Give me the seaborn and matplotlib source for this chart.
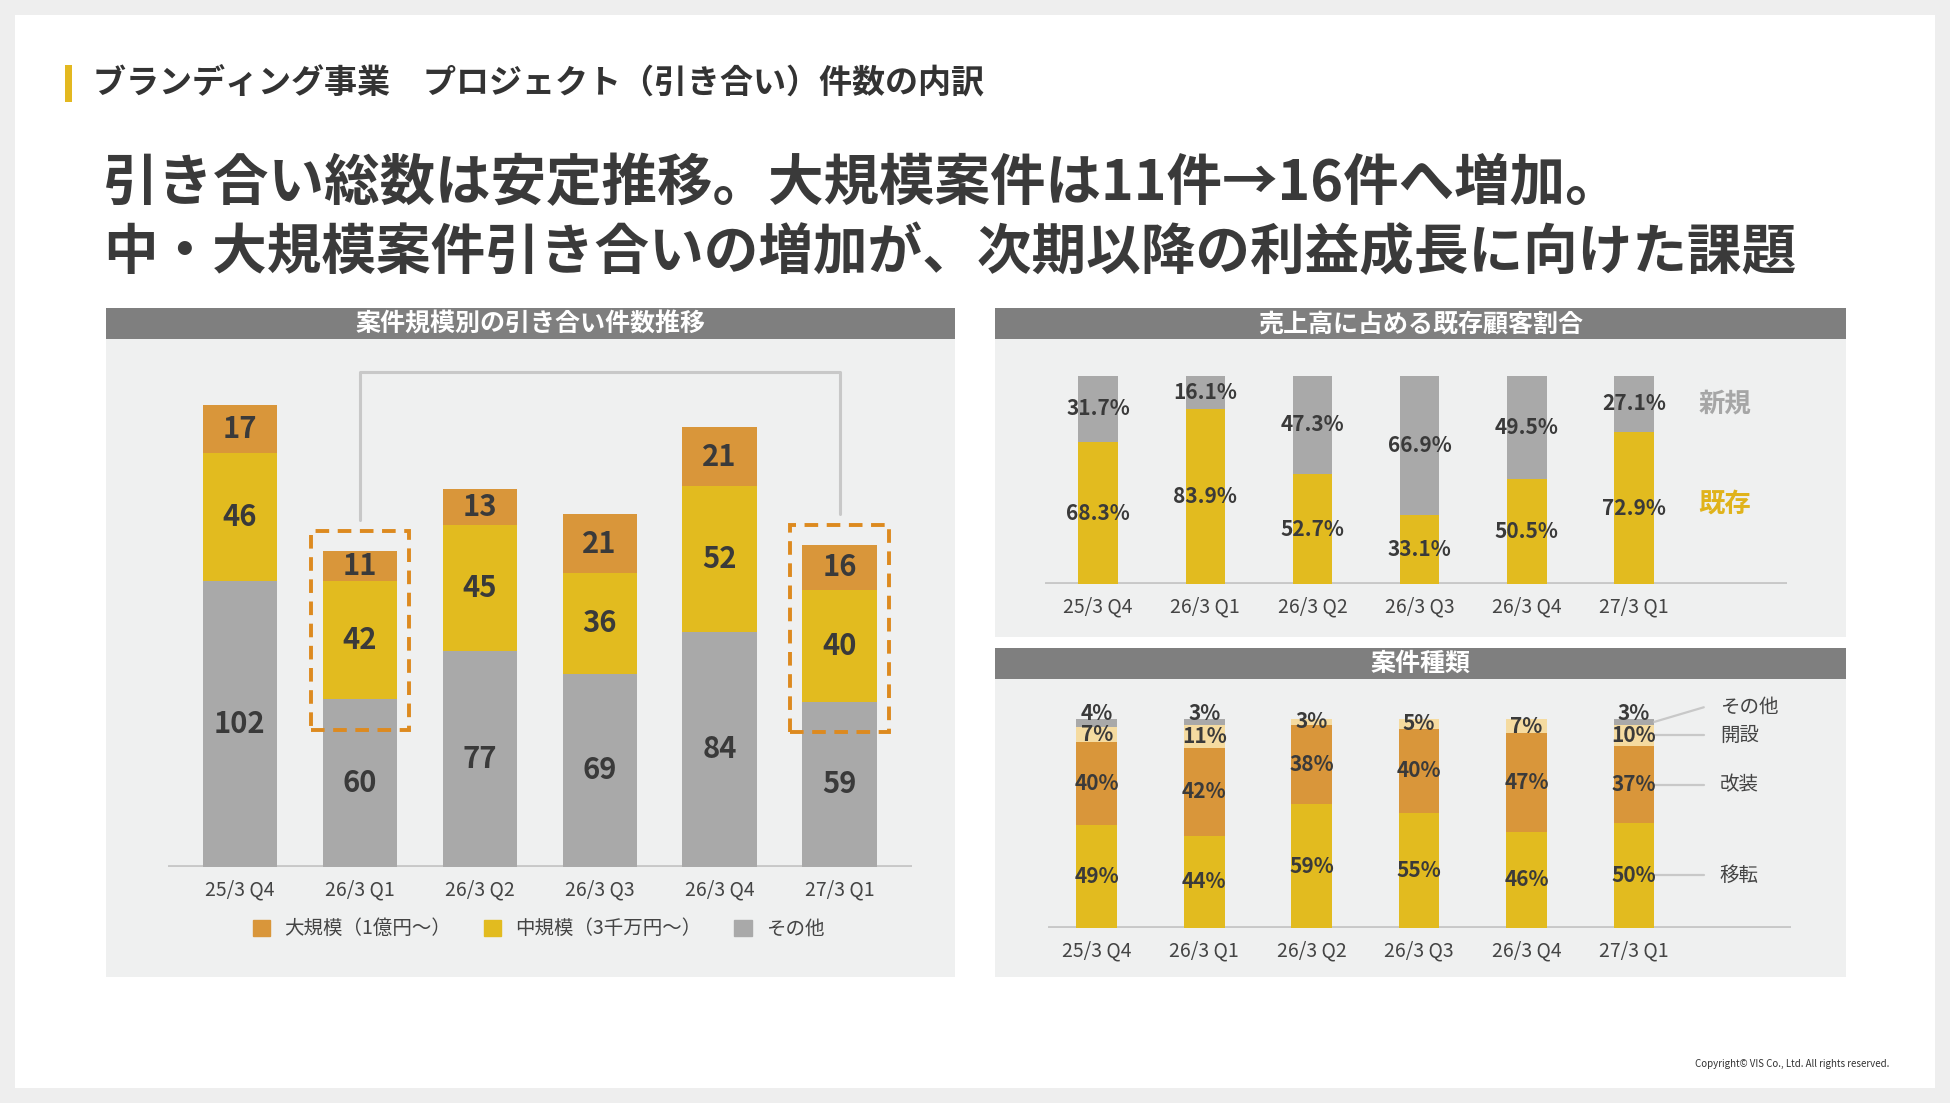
import matplotlib
matplotlib.use("Agg")
import matplotlib.pyplot as plt
from matplotlib.patches import Rectangle, Patch
import numpy as np
import seaborn as sns

QUARTERS = ["25/3 Q4", "26/3 Q1", "26/3 Q2", "26/3 Q3", "26/3 Q4", "27/3 Q1"]

# 案件規模別の引き合い件数
SIZE_OTHER = [102, 60, 77, 69, 84, 59]
SIZE_MID = [46, 42, 45, 36, 52, 40]
SIZE_LARGE = [17, 11, 13, 21, 21, 16]
SIZE_NAMES = ["大規模（1億円〜）", "中規模（3千万円〜）", "その他"]
HIGHLIGHT = ["26/3 Q1", "27/3 Q1"]

# 売上高に占める既存顧客割合 (%)
EXISTING = [68.3, 83.9, 52.7, 33.1, 50.5, 72.9]
NEW = [31.7, 16.1, 47.3, 66.9, 49.5, 27.1]

# 案件種類 (%)
TYPE_MOVE = [49, 44, 59, 55, 46, 50]
TYPE_RENOV = [40, 42, 38, 40, 47, 37]
TYPE_OPEN = [7, 11, 3, 5, 7, 10]
TYPE_OTHER = [4, 3, 0, 0, 0, 3]
TYPE_NAMES = ["移転", "改装", "開設", "その他"]

ORANGE, YELLOW, GRAY, LIGHT = "#D9963A", "#E2BB1F", "#A9A9A9", "#F5DBA0"
PANEL, HEAD, TXT, LINE = "#EFF0F0", "#7F7F7F", "#3A3A3A", "#C8C8C8"

sns.set_theme(style="white")
plt.rcParams["font.family"] = ["Noto Sans CJK JP", "DejaVu Sans"]

W, H = 1568, 887   # layout grid (scaled to 1950x1103 on save)
def fbox(x0, y0, x1, y1):
    return [x0 / W, 1 - y1 / H, (x1 - x0) / W, (y1 - y0) / H]

fig = plt.figure(figsize=(19.5, 11.03), dpi=100, facecolor="#EEEEEE")

def rect(x0, y0, x1, y1, color, z=-2):
    b = fbox(x0, y0, x1, y1)
    fig.add_artist(Rectangle((b[0], b[1]), b[2], b[3], transform=fig.transFigure,
                             facecolor=color, edgecolor="none", zorder=z))

rect(12, 12, 1556, 875, "white", z=-3)
rect(52, 52, 58, 82, "#E3B820")
fig.text(75 / W, 1 - 67 / H, "ブランディング事業　プロジェクト（引き合い）件数の内訳",
         fontsize=23.8, weight="bold", color="#333333", va="center")
fig.text(83 / W, 1 - 148 / H, "引き合い総数は安定推移。大規模案件は11件→16件へ増加。",
         fontsize=40, weight="bold", color=TXT, va="center")
fig.text(83 / W, 1 - 204 / H, "中・大規模案件引き合いの増加が、次期以降の利益成長に向けた課題",
         fontsize=39.3, weight="bold", color=TXT, va="center")

# panels + headers
for (x0, y0, x1, y1, title) in [(85, 248, 768, 786, "案件規模別の引き合い件数推移"),
                                (800, 248, 1484, 512, "売上高に占める既存顧客割合"),
                                (800, 521, 1484, 786, "案件種類")]:
    rect(x0, y0, x1, y1, PANEL)
    rect(x0, y0, x1, y0 + 25, HEAD, z=-1)
    fig.text((x0 + x1) / 2 / W, 1 - (y0 + 13) / H, title, fontsize=18,
             weight="bold", color="white", ha="center", va="center")

fig.text(1519 / W, 1 - 856 / H, "Copyright© VIS Co., Ltd. All rights reserved.",
         fontsize=7, color="#333333", ha="right", va="center")


def stacked(ax, layers, colors, width):
    cums, c = [], np.zeros(len(QUARTERS))
    for vals in layers:
        c = c + np.array(vals, dtype=float)
        cums.append(c.copy())
    for cum, col in reversed(list(zip(cums, colors))):
        sns.barplot(x=QUARTERS, y=cum, color=col, width=width, saturation=1,
                    errorbar=None, linewidth=0, ax=ax, zorder=2)
    return cums


def style(ax, xlim, ylim):
    ax.set_facecolor("none")
    ax.set_xlim(*xlim); ax.set_ylim(*ylim)
    sns.despine(ax=ax, left=True, bottom=True)
    ax.set_yticks([]); ax.set_ylabel(""); ax.set_xlabel("")
    ax.tick_params(axis="x", length=0, pad=9, labelsize=14, labelcolor="#444444")
    ax.axhline(0, color=LINE, lw=3.5, zorder=1)


# ---- left: 案件規模別の引き合い件数推移
ax1 = fig.add_axes(fbox(135, 290, 733, 697))
cums = stacked(ax1, [SIZE_OTHER, SIZE_MID, SIZE_LARGE], [GRAY, YELLOW, ORANGE], 0.62)
style(ax1, (-0.6, 5.6), (0, 407 / 2.25))
for layer, cum in zip([SIZE_OTHER, SIZE_MID, SIZE_LARGE], cums):
    for i, v in enumerate(layer):
        ax1.text(i, cum[i] - v / 2, str(v), ha="center", va="center",
                 fontsize=21, weight="bold", color=TXT, zorder=3)
tot = cums[-1]
idx = [QUARTERS.index(q) for q in HIGHLIGHT]
box_tops = []
for i in idx:
    bot, top = SIZE_OTHER[i] - 11, tot[i] + 7
    box_tops.append(top)
    ax1.add_patch(Rectangle((i - 0.41, bot), 0.82, top - bot, fill=False,
                            edgecolor="#DD8A1F", lw=2.8, linestyle=(0, (3.5, 2.2)),
                            zorder=4, clip_on=False))
ytop = tot.max() + 12
ax1.plot([idx[0], idx[0], idx[1], idx[1]],
         [box_tops[0] + 4, ytop, ytop, box_tops[1] + 4],
         color=LINE, lw=2.2, zorder=1, clip_on=False)
ax1.legend(handles=[Patch(color=c, label=n) for c, n in zip([ORANGE, YELLOW, GRAY], SIZE_NAMES)],
           ncol=3, frameon=False, loc="center", bbox_to_anchor=(433 / W, 1 - 747 / H),
           bbox_transform=fig.transFigure, fontsize=14, labelcolor="#444444",
           handlelength=0.9, handleheight=0.9, handletextpad=0.7, columnspacing=1.7)

# ---- top right: 売上高に占める既存顧客割合
ax2 = fig.add_axes(fbox(840, 285, 1437, 470))
cums = stacked(ax2, [EXISTING, NEW], [YELLOW, GRAY], 0.37)
style(ax2, (-0.5, 6.43), (0, 185 / 1.68))
for layer, cum in zip([EXISTING, NEW], cums):
    for i, v in enumerate(layer):
        ax2.text(i, cum[i] - v / 2, f"{v:.1f}%", ha="center", va="center",
                 fontsize=15, weight="bold", color=TXT, zorder=3)
ax2.text(5.85, EXISTING[-1] + NEW[-1] / 2, "新規", fontsize=19, weight="bold",
         color="#A6A6A6", ha="center", va="center")
ax2.text(5.85, EXISTING[-1] / 2 + 2, "既存", fontsize=19, weight="bold",
         color="#E0B31B", ha="center", va="center")

# ---- bottom right: 案件種類
ax3 = fig.add_axes(fbox(843, 560, 1440, 746))
layers = [TYPE_MOVE, TYPE_RENOV, TYPE_OPEN, TYPE_OTHER]
cums = stacked(ax3, layers, [YELLOW, ORANGE, LIGHT, GRAY], 0.38)
style(ax3, (-0.45, 6.46), (0, 186 / 1.68))
for k, (layer, cum) in enumerate(zip(layers, cums)):
    for i, v in enumerate(layer):
        if v <= 0:
            continue
        y = cum[i] + 2.5 if k == 3 else cum[i] - v / 2
        ax3.text(i, y, f"{v}%", ha="center", va="center", fontsize=15,
                 weight="bold", color=TXT, zorder=3)
last = len(QUARTERS) - 1
x_edge, x_end, x_txt = last + 0.19, last + 0.65, last + 0.80
for k, (layer, cum) in enumerate(zip(layers, cums)):
    mid = cum[last] - layer[last] / 2
    if k == 3:
        ax3.plot([x_edge, x_end], [mid, mid + 7], color=LINE, lw=1.6, clip_on=False)
        ty = mid + 7
    else:
        ax3.plot([x_edge, x_end], [mid, mid], color=LINE, lw=1.6, clip_on=False)
        ty = mid
    ax3.text(x_txt, ty, TYPE_NAMES[k], fontsize=14, color="#444444",
             ha="left", va="center", clip_on=False)

fig.savefig("out.png", dpi=100, facecolor=fig.get_facecolor())
